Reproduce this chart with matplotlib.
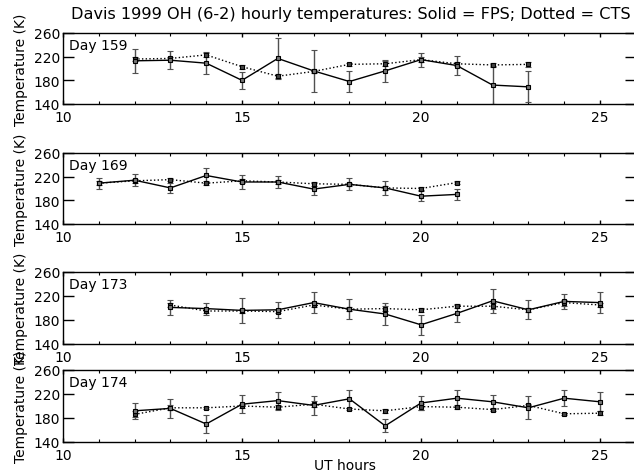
import numpy as np
import matplotlib
matplotlib.use("Agg")
import matplotlib.pyplot as plt
from matplotlib.ticker import MultipleLocator

# hourly OH temperatures: FPS (solid) and CTS (dotted)
days = ["Day 159", "Day 169", "Day 173", "Day 174"]

hours1 = [12, 13, 14, 15, 16, 17, 18, 19, 20, 21, 22, 23]
fps1 = [213, 214, 209, 180, 217, 196, 178, 196, 215, 205, 172, 169]
fps1_err = [20, 15, 19, 14, 34, 35, 17, 18, 12, 16, 32, 26]
cts1 = [216, 217, 223, 203, 187, 195, 207, 208, 215, 208, 206, 207]
cts1_err = [3, 3, 4, 3, 3, 3, 2, 4, 4, 3, 3, 4]

hours2 = [11, 12, 13, 14, 15, 16, 17, 18, 19, 20, 21]
fps2 = [209, 214, 201, 222, 211, 211, 199, 207, 201, 187, 190]
fps2_err = [9, 10, 8, 13, 12, 10, 10, 10, 12, 8, 9]
cts2 = [209, 213, 215, 209, 213, 211, 208, 207, 201, 200, 210]
cts2_err = [3, 3, 3, 3, 3, 3, 3, 3, 3, 3, 2]

hours3 = [13, 14, 15, 16, 17, 18, 19, 20, 21, 22, 23, 24, 25]
fps3 = [201, 199, 196, 197, 209, 198, 190, 172, 191, 212, 197, 211, 209]
fps3_err = [13, 10, 21, 13, 17, 17, 18, 17, 14, 20, 16, 12, 17]
cts3 = [205, 195, 195, 194, 205, 198, 199, 197, 203, 203, 197, 209, 205]
cts3_err = [4, 4, 3, 3, 4, 3, 4, 3, 3, 5, 3, 5, 4]

hours4 = [12, 13, 14, 15, 16, 17, 18, 19, 20, 21, 22, 23, 24, 25]
fps4 = [192, 196, 170, 203, 209, 201, 212, 167, 205, 213, 207, 197, 213, 207]
fps4_err = [13, 16, 15, 15, 15, 16, 15, 11, 12, 14, 12, 19, 13, 16]
cts4 = [186, 197, 197, 200, 198, 203, 195, 192, 199, 198, 194, 201, 187, 188]
cts4_err = [5, 4, 2, 4, 3, 5, 2, 3, 5, 3, 3, 3, 2, 3]

hours = [hours1, hours2, hours3, hours4]
fps = [fps1, fps2, fps3, fps4]
fps_err = [fps1_err, fps2_err, fps3_err, fps4_err]
cts = [cts1, cts2, cts3, cts4]
cts_err = [cts1_err, cts2_err, cts3_err, cts4_err]

W, H = 634, 477
fig = plt.figure(figsize=(W/100, H/100), dpi=100)
plt.rcParams['font.family'] = ['DejaVu Sans']

# panel top/bottom in pixels
panels = [(34, 105), (154, 225), (273, 345), (371, 443)]
left = 63
axw = 16*35.8

for i, (top, bot) in enumerate(panels):
    ax = fig.add_axes([left/W, 1 - bot/H, axw/W, (bot-top)/H])
    ax.errorbar(hours[i], cts[i], yerr=cts_err[i], color='k', ls=':', lw=1,
                marker='s', ms=3.5, mfc='#444444', mec='k', mew=0.8,
                ecolor='#505050', elinewidth=1, capsize=2.5, capthick=1)
    ax.errorbar(hours[i], fps[i], yerr=fps_err[i], color='k', ls='-', lw=1,
                marker='s', ms=3.5, mfc='#777777', mec='k', mew=0.8,
                ecolor='#505050', elinewidth=1, capsize=2.5, capthick=1)
    ax.set_xlim(10, 26)
    ax.set_ylim(140, 260)
    ax.set_yticks([140, 180, 220, 260])
    ax.xaxis.set_major_locator(MultipleLocator(5))
    ax.xaxis.set_minor_locator(MultipleLocator(1))
    ax.tick_params(axis='y', direction='in', length=8, width=1, left=True, right=True,
                   labelsize=10, pad=2)
    ax.tick_params(axis='x', which='major', direction='in', length=3, width=1,
                   top=True, bottom=True, labelsize=10, pad=4)
    ax.tick_params(axis='x', which='minor', direction='in', length=2, width=0.8,
                   top=True, bottom=True)
    for s in ax.spines.values():
        s.set_linewidth(1)
    ax.set_ylabel("Temperature (K)", fontsize=10, labelpad=4)
    ax.text(0.01, 0.93, days[i], transform=ax.transAxes, fontsize=10,
            ha='left', va='top')

fig.text(351/W, 1 - 15/H, "Davis 1999 OH (6-2) hourly temperatures: Solid = FPS; Dotted = CTS",
         fontsize=11.6, ha='center', va='center')
fig.text(345/W, 1 - 466/H, "UT hours", fontsize=10, ha='center', va='center')

fig.savefig("out.png", dpi=100)
